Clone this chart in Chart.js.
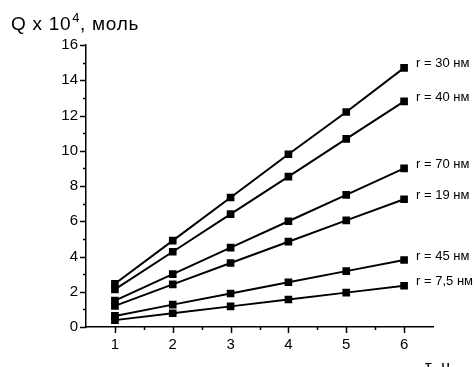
<!DOCTYPE html>
<html>
<head>
<meta charset="utf-8">
<script src="https://cdn.jsdelivr.net/npm/chart.js@4/dist/chart.umd.min.js"></script>
<style>
  html, body { margin: 0; padding: 0; background: #fff; }
  #wrap { width: 474px; height: 367px; position: relative; }
</style>
</head>
<body>
<div id="wrap"><canvas id="chart"></canvas></div>
<script>
// sorption Q (x10^4 mol) vs time for several pore radii
const hours   = [1, 2, 3, 4, 5, 6];
const xTicks  = [1, 2, 3, 4, 5, 6];
const yTicks  = [0, 2, 4, 6, 8, 10, 12, 14, 16];
const seriesNames = ['r = 30 нм', 'r = 40 нм', 'r = 70 нм', 'r = 19 нм', 'r = 45 нм', 'r = 7,5 нм'];
const q30  = [2.45, 4.9, 7.35, 9.8, 12.2, 14.7];
const q40  = [2.13, 4.27, 6.4, 8.53, 10.67, 12.8];
const q70  = [1.5, 3.0, 4.5, 6.0, 7.5, 9.0];
const q19  = [1.2, 2.42, 3.63, 4.84, 6.05, 7.25];
const q45  = [0.63, 1.27, 1.9, 2.54, 3.17, 3.8];
const q7_5 = [0.39, 0.78, 1.17, 1.56, 1.95, 2.34];
const seriesValues = [q30, q40, q70, q19, q45, q7_5];

const FONT = "'Liberation Sans', Arial, sans-serif";

const datasets = seriesValues.map(function(vals, i) {
  return {
    label: seriesNames[i],
    data: hours.map(function(h, j) { return {x: h, y: vals[j]}; }),
    borderColor: '#000', backgroundColor: '#000',
    borderWidth: 2, pointStyle: 'rect', pointRadius: 4, pointHoverRadius: 4,
    tension: 0
  };
});

// axis ticks, titles and series captions
const decor = {
  id: 'decor',
  afterDraw: function(chart) {
    const ctx = chart.ctx, xs = chart.scales.x, ys = chart.scales.y;
    ctx.save();
    ctx.strokeStyle = '#000'; ctx.lineWidth = 1.5;
    ctx.beginPath();
    for (let v = 0; v <= 16; v++) {
      const py = Math.round(ys.getPixelForValue(v)) + 0.5, len = v % 2 ? 3 : 6;
      ctx.moveTo(xs.left, py); ctx.lineTo(xs.left - len, py);
    }
    for (let v = 1; v <= 6; v += 0.5) {
      const px = Math.round(xs.getPixelForValue(v)) + 0.5, len = v % 1 ? 3 : 6;
      ctx.moveTo(px, ys.bottom); ctx.lineTo(px, ys.bottom + len);
    }
    ctx.stroke();

    ctx.fillStyle = '#000';
    ctx.textBaseline = 'alphabetic';
    ctx.textAlign = 'left';
    // y title with superscript
    ctx.letterSpacing = '0.7px';
    ctx.font = '19px ' + FONT;
    let x = 11;
    ctx.fillText('Q x 10', x, 30); x += ctx.measureText('Q x 10').width + 1;
    ctx.font = '13px ' + FONT;
    ctx.fillText('4', x, 22); x += ctx.measureText('4').width;
    ctx.font = '19px ' + FONT;
    ctx.fillText(', моль', x, 30);
    ctx.letterSpacing = '0px';

    // x title
    ctx.font = '17px ' + FONT;
    ctx.fillText('τ, ч', 425, 372);

    // captions at line ends
    ctx.font = '13px ' + FONT;
    ctx.textBaseline = 'middle';
    chart.data.datasets.forEach(function(ds, i) {
      const pt = chart.getDatasetMeta(i).data[hours.length - 1];
      ctx.fillText(ds.label, pt.x + 12, pt.y - 4);
    });
    ctx.restore();
  }
};

new Chart(document.getElementById('chart'), {
  type: 'line',
  data: { datasets: datasets },
  options: {
    responsive: true, maintainAspectRatio: false, animation: false,
    layout: { padding: { top: 45, right: 41, left: 0, bottom: 0 } },
    plugins: { legend: { display: false }, tooltip: { enabled: false } },
    scales: {
      x: {
        type: 'linear', min: 0.5, max: 6.5,
        afterBuildTicks: function(s) { s.ticks = xTicks.map(function(v) { return {value: v}; }); },
        afterFit: function(s) { s.height = 40; },
        grid: { display: false, drawTicks: false },
        border: { display: true, color: '#000', width: 1.5 },
        ticks: { color: '#000', padding: 9, font: { family: FONT, size: 15 }, maxRotation: 0 }
      },
      y: {
        min: 0, max: 16,
        afterBuildTicks: function(s) { s.ticks = yTicks.map(function(v) { return {value: v}; }); },
        afterFit: function(s) { s.width = 86; },
        grid: { display: false, drawTicks: false },
        border: { display: true, color: '#000', width: 1.5 },
        ticks: { color: '#000', padding: 8, font: { family: FONT, size: 15 } }
      }
    }
  },
  plugins: [decor]
});
</script>
</body>
</html>
